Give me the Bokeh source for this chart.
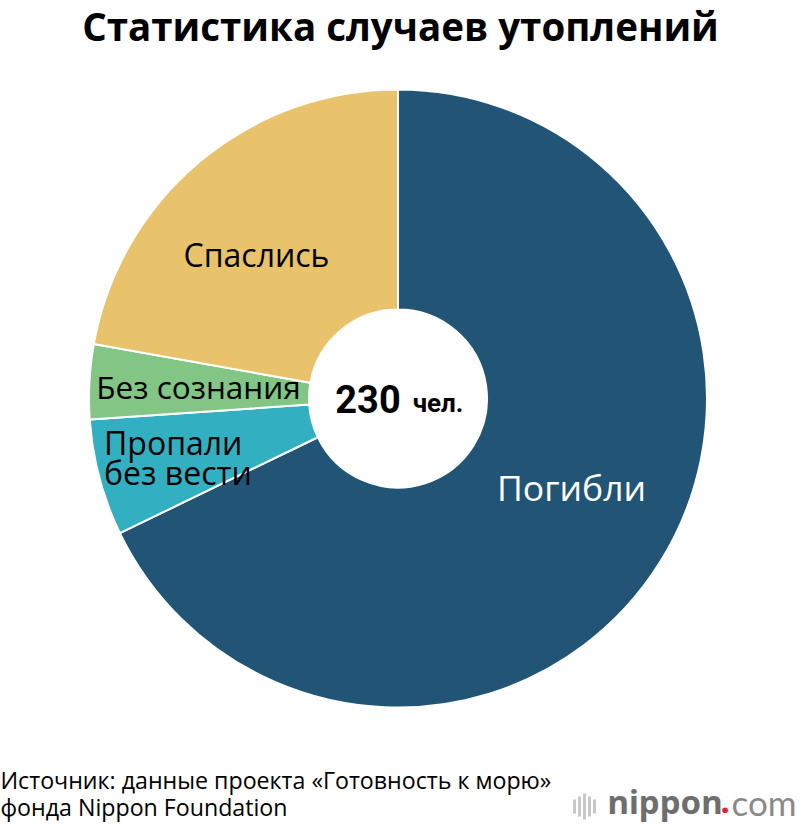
import numpy as np
from bokeh.plotting import figure
from bokeh.models import ColumnDataSource, Range1d
from bokeh.core.properties import value
from bokeh.embed import file_html
from bokeh.resources import INLINE

categories = ["Погибли", "Пропали без вести", "Без сознания", "Спаслись"]
values = [156, 14, 9, 51]
colors = ["#225475", "#32B0C1", "#82C585", "#E8C36C"]
title = "Статистика случаев утоплений"
source_lines = ["Источник: данные проекта «Готовность к морю»", "фонда Nippon Foundation"]
total_num = "230"
total_unit = "чел."

CX, CY = 397.5, 398   # pie centre in page pixels
W, H = 800, 828


def X(px):
    return px - CX


def Y(py):
    return CY - py


p = figure(width=W, height=H, output_backend="svg", toolbar_location=None,
           x_range=Range1d(X(0), X(W)), y_range=Range1d(Y(H), Y(0)),
           min_border=0, min_border_left=0, min_border_right=0, min_border_top=0, min_border_bottom=0,
           outline_line_color=None)
p.axis.visible = False
p.grid.visible = False
p.background_fill_color = "white"

vals = np.array(values, dtype=float)
cum = np.concatenate([[0], np.cumsum(vals)]) / vals.sum() * 2 * np.pi
src = ColumnDataSource(dict(start=np.pi / 2 - cum[:-1], end=np.pi / 2 - cum[1:], color=colors, name=categories))
p.annular_wedge(x=0, y=0, inner_radius=89, outer_radius=309, start_angle="start", end_angle="end",
                direction="clock", fill_color="color", line_color="white", line_width=2, source=src)


def T(x, y, s, size, color="black", font="Open Sans", style="normal", align="left", base="middle"):
    p.text([X(x)], [Y(y)], text=[s], text_font=value(font), text_font_size=f"{size}px",
           text_font_style=style, text_color=color, text_align=align, text_baseline=base)


T(400, 25, title, 38.5, style="bold", align="center")
T(571, 486, "Погибли", 35.5, color="white", align="center")
T(256, 254, "Спаслись", 32, align="center")
T(198, 386, "Без сознания", 31.5, align="center")
T(103.5, 442, "Пропали", 32)
T(103.5, 472, "без вести", 32)
T(367.5, 398, total_num, 38, font="Roboto", style="bold", align="center")
T(437.5, 402, total_unit, 26, font="Roboto", style="bold", align="center")
T(0, 779, source_lines[0], 23.2)
T(0, 806, source_lines[1], 23.2)

# logo
bars_x = [574, 579, 584, 589, 594]
bars_h = [7, 10, 13, 10, 7]
for bx, bh in zip(bars_x, bars_h):
    p.segment([X(bx)], [Y(806 - bh)], [X(bx)], [Y(806 + bh)], line_color="#c8c8c8", line_width=3)
T(607, 801, "nippon", 33, color="#6e6e6e", font="Noto Sans", style="bold")
T(720, 801, ".", 33, color="#e8212b", font="Noto Sans", style="bold")
T(731, 801, "com", 35, color="#8a8a8a", font="Lato")

open("out.html", "w").write(file_html(p, INLINE))
